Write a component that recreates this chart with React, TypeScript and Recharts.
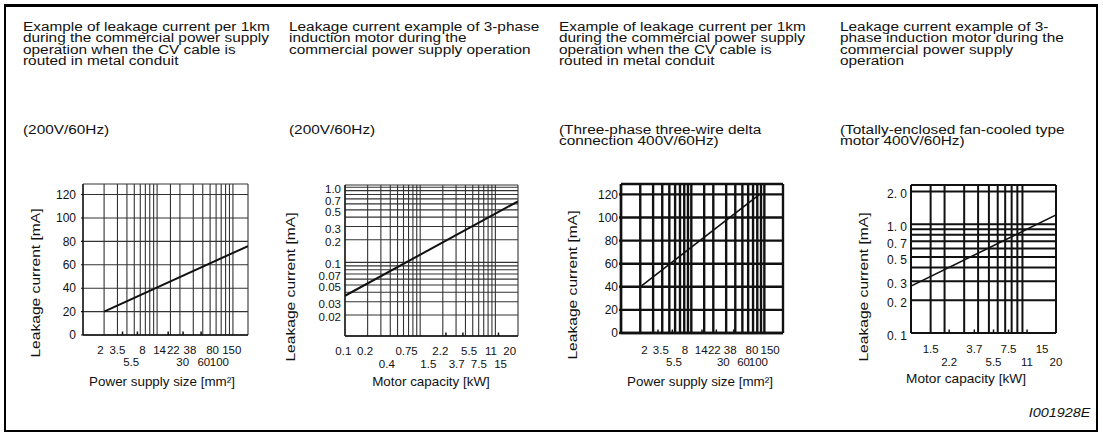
import React from 'react';
import { ComposedChart, Line, Scatter, XAxis, YAxis, CartesianGrid } from 'recharts';

const FONT = '"Liberation Sans", Arial, Helvetica, sans-serif';

// ---------------- data ----------------
// Panel 1: cable per 1 km, 200V/60Hz
const p1LineX = [2, 158];
const p1LineY = [20, 76];
// Panel 3: cable per 1 km, 400V/60Hz
const p3LineX = [2, 86];
const p3LineY = [40, 120];
// shared cable-size axes (panels 1 and 3)
const cableGridX = [2, 3, 4, 5, 6, 7, 8, 9, 10, 15, 20, 30, 40, 50, 60, 70, 80, 90, 100];
const cableLabelsUpper = [2, 3.5, 8, 14, 22, 38, 80, 150];
const cableLabelsLower = [5.5, 30, 60, 100];
const cableMarks = [3.5, 5.5, 14, 22, 38];
const mAGrid = [20, 40, 60, 80, 100, 120];
const mATicks = [0, 20, 40, 60, 80, 100, 120];

// Panel 2: motor, 200V/60Hz
const p2LineX = [0.1, 20];
const p2LineY = [0.036, 0.65];
const p2GridX = [0.2, 0.3, 0.4, 0.5, 0.6, 0.7, 0.8, 0.9, 1, 2, 3, 4, 5, 6, 7, 8, 9, 10, 20];
const p2GridY = [0.02, 0.03, 0.04, 0.05, 0.06, 0.07, 0.08, 0.09, 0.1, 0.2, 0.3, 0.4, 0.5, 0.6, 0.7, 0.8, 0.9, 1.0];
const p2TicksY = [0.02, 0.03, 0.05, 0.07, 0.1, 0.2, 0.3, 0.5, 0.7, 1.0];
const p2LabelsUpper = [0.1, 0.2, 0.75, 2.2, 5.5, 11, 20];
const p2LabelsLower = [0.4, 1.5, 3.7, 7.5, 15];
const p2Marks = [2.2, 3.7, 11];

// Panel 4: motor, 400V/60Hz
const p4LineX = [1, 20];
const p4LineY = [0.27, 1.22];
const p4GridX = [1.5, 2, 3, 4, 5, 6, 7, 8, 9, 10, 20];
const p4GridY = [0.2, 0.3, 0.4, 0.5, 0.6, 0.7, 0.8, 0.9, 1.0, 2.0];
const p4TicksY = [0.1, 0.2, 0.3, 0.5, 0.7, 1.0, 2.0];
const p4LabelsUpper = [1.5, 3.7, 7.5, 15];
const p4LabelsLower = [2.2, 5.5, 11, 20];
const p4Marks = [2.2, 3.7, 5.5, 7.5, 11];

// texts
const title1 = ['Example of leakage current per 1km', 'during the commercial power supply', 'operation when the CV cable is', 'routed in metal conduit'];
const title2 = ['Leakage current example of 3-phase', 'induction motor during the', 'commercial power supply operation'];
const title4 = ['Leakage current example of 3-', 'phase induction motor during the', 'commercial power supply', 'operation'];
const sub12 = ['(200V/60Hz)'];
const sub3 = ['(Three-phase three-wire delta', 'connection 400V/60Hz)'];
const sub4 = ['(Totally-enclosed fan-cooled type', 'motor 400V/60Hz)'];
const yTitle = 'Leakage current [mA]';
const xTitleCable = 'Power supply size [mm²]';
const xTitleMotor = 'Motor capacity [kW]';
const figId = 'I001928E';

const toPts = (xs: number[], ys: number[]) => xs.map((x, i) => ({ x, y: ys[i] }));

type PanelCfg = {
  left: number; top: number; width: number; height: number;
  xDomain: [number, number]; labelDomain: [number, number];
  yScale: 'linear' | 'log'; yDomain: [number, number];
  xGrid: number[]; yGrid: number[];
  yTicks: number[]; yFmt: (v: number) => string; yFont: number; yDy: number; yTickSize: number; yTickMargin: number; yTickLine: boolean;
  upper: number[]; lower: number[]; xFont: number; dy1: number; dy2: number;
  marks: number[];
  line: { x: number; y: number }[];
  gridW: number; gridColor: string; lineW: number; axisW: number;
};

// chart frame padding around the plot area (room for edge labels)
const PAD_TOP = 10;
const PAD_RIGHT = 15;

function XTick(props: any) {
  const { x, y, payload, lower, dy1, dy2, fs } = props;
  const row2 = lower.includes(payload.value);
  return (
    <text x={x} y={y + (row2 ? dy2 : dy1)} textAnchor="middle" fontSize={fs} fontFamily={FONT} fill="#111">
      {String(payload.value)}
    </text>
  );
}

function YTick(props: any) {
  const { x, y, payload, fmt, dy, fs } = props;
  return (
    <text x={x} y={y + dy} textAnchor="end" fontSize={fs} fontFamily={FONT} fill="#111">
      {fmt(payload.value)}
    </text>
  );
}

const Empty = () => <g />;

function Panel({ c }: { c: PanelCfg }) {
  const markData = c.marks.map((x) => ({ x, y: c.yDomain[0] }));
  const labelData = [...c.upper, ...c.lower].map((x) => ({ x, y: c.yDomain[0] }));
  const SmallTick = (p: any) => (
    <line x1={p.cx} x2={p.cx} y1={p.cy} y2={p.cy - 3.5} stroke="#111" strokeWidth={1.5} />
  );
  return (
    <div style={{ position: 'absolute', left: c.left, top: c.top - PAD_TOP }}>
      <ComposedChart width={c.width + PAD_RIGHT - 5} height={c.height + PAD_TOP} margin={{ top: PAD_TOP, right: PAD_RIGHT, bottom: 0, left: 0 }}>
        <XAxis
          xAxisId="lx" dataKey="x" type="number" scale="log" domain={c.labelDomain} allowDataOverflow
          ticks={[...c.upper, ...c.lower]} interval={0} height={35} tickSize={0} tickMargin={0}
          axisLine={{ stroke: '#111', strokeWidth: c.axisW }} tickLine={false}
          tick={(t: any) => <XTick {...t} lower={c.lower} dy1={c.dy1} dy2={c.dy2} fs={c.xFont} />}
        />
        <YAxis
          yAxisId="vy" type="number" scale={c.yScale} domain={c.yDomain} allowDataOverflow
          ticks={c.yTicks} interval={0} width={40} tickSize={c.yTickSize} tickMargin={c.yTickMargin}
          axisLine={{ stroke: '#111', strokeWidth: c.axisW }}
          tickLine={c.yTickLine ? { stroke: '#111', strokeWidth: c.gridW } : false}
          tick={(t: any) => <YTick {...t} fmt={c.yFmt} dy={c.yDy} fs={c.yFont} />}
        />
        <XAxis xAxisId="gx" dataKey="x" type="number" scale="log" domain={c.xDomain} allowDataOverflow ticks={c.xGrid} interval={0} height={0} hide />
        <YAxis yAxisId="gy" type="number" scale={c.yScale} domain={c.yDomain} allowDataOverflow ticks={c.yGrid} interval={0} width={0} hide />
        <CartesianGrid xAxisId="gx" yAxisId="gy" stroke={c.gridColor} strokeWidth={c.gridW} />
        <Line xAxisId="gx" yAxisId="vy" data={c.line} dataKey="y" stroke="#111" strokeWidth={c.lineW} dot={false} activeDot={false} isAnimationActive={false} />
        <Scatter xAxisId="gx" yAxisId="vy" data={markData} dataKey="y" shape={SmallTick} isAnimationActive={false} />
        <Scatter xAxisId="lx" yAxisId="vy" data={labelData} dataKey="y" shape={Empty} isAnimationActive={false} />
      </ComposedChart>
    </div>
  );
}

function TextLines({ x, top, lines, fs, lh, sx }: { x: number; top: number; lines: string[]; fs: number; lh: number; sx: number }) {
  return (
    <div style={{ position: 'absolute', left: x, top, fontSize: fs, lineHeight: `${lh}px`, whiteSpace: 'pre', transform: `scaleX(${sx})`, transformOrigin: 'left top' }}>
      {lines.map((l, i) => <div key={i}>{l}</div>)}
    </div>
  );
}

function CenterText({ cx, cy, text, fs, sx, rotate }: { cx: number; cy: number; text: string; fs: number; sx: number; rotate?: boolean }) {
  return (
    <div style={{ position: 'absolute', left: cx, top: cy, fontSize: fs, lineHeight: `${fs}px`, whiteSpace: 'pre', transform: `translate(-50%,-50%) ${rotate ? 'rotate(-90deg) ' : ''}scaleX(${sx})` }}>
      {text}
    </div>
  );
}

const fmtPlain = (v: number) => String(v);
const fmtP2 = (v: number) => (v === 1 ? '1.0' : String(v));
const fmtP4 = (v: number) => v.toFixed(1).replace('.', '. ');

const panels: PanelCfg[] = [
  {
    left: 43, top: 184, width: 210, height: 186,
    xDomain: [1.054, 158], labelDomain: [1.13, 256], yScale: 'linear', yDomain: [0, 129],
    xGrid: cableGridX, yGrid: mAGrid, yTicks: mATicks, yFmt: fmtPlain, yFont: 12, yDy: 4.2, yTickSize: 2, yTickMargin: 5, yTickLine: true,
    upper: cableLabelsUpper, lower: cableLabelsLower, xFont: 11.5, dy1: 19, dy2: 31,
    marks: cableMarks, line: toPts(p1LineX, p1LineY), gridW: 1.1, gridColor: '#333', lineW: 2, axisW: 1.3,
  },
  {
    left: 305, top: 185, width: 218, height: 186,
    xDomain: [0.1, 20], labelDomain: [0.1055, 26.1], yScale: 'log', yDomain: [0.0105, 1.07],
    xGrid: p2GridX, yGrid: p2GridY, yTicks: p2TicksY, yFmt: fmtP2, yFont: 11.5, yDy: 6, yTickSize: 0, yTickMargin: 4, yTickLine: false,
    upper: p2LabelsUpper, lower: p2LabelsLower, xFont: 11.5, dy1: 18.5, dy2: 32,
    marks: p2Marks, line: toPts(p2LineX, p2LineY), gridW: 1.1, gridColor: '#333', lineW: 2, axisW: 1.3,
  },
  {
    left: 581, top: 184, width: 207, height: 184,
    xDomain: [1.09, 180], labelDomain: [0.89, 233], yScale: 'linear', yDomain: [0, 129],
    xGrid: cableGridX, yGrid: mAGrid, yTicks: mATicks, yFmt: fmtPlain, yFont: 12, yDy: 4.2, yTickSize: 2, yTickMargin: 1, yTickLine: true,
    upper: cableLabelsUpper, lower: cableLabelsLower, xFont: 11.5, dy1: 21, dy2: 33,
    marks: cableMarks, line: toPts(p3LineX, p3LineY), gridW: 2.4, gridColor: '#111', lineW: 1.6, axisW: 2.4,
  },
  {
    left: 871, top: 185, width: 190, height: 183,
    xDomain: [1, 20], labelDomain: [1, 20], yScale: 'log', yDomain: [0.1, 2.3],
    xGrid: p4GridX, yGrid: p4GridY, yTicks: p4TicksY, yFmt: fmtP4, yFont: 12, yDy: 6.5, yTickSize: 0, yTickMargin: 4, yTickLine: false,
    upper: p4LabelsUpper, lower: p4LabelsLower, xFont: 11.5, dy1: 20, dy2: 33,
    marks: p4Marks, line: toPts(p4LineX, p4LineY), gridW: 2, gridColor: '#111', lineW: 1.6, axisW: 2,
  },
];

const TFS = 12, TLH = 11.3, TSX = 1.28;

export default function App() {
  return (
    <div style={{ position: 'absolute', left: 0, top: 0, width: 1103, height: 435, background: '#fff', fontFamily: FONT, color: '#111', overflow: 'hidden' }}>
      <div style={{ position: 'absolute', left: 4, top: 4, width: 1094, height: 428, border: '2px solid #000', borderTopWidth: 3, boxSizing: 'border-box' }} />

      <TextLines x={23} top={22} lines={title1} fs={TFS} lh={TLH} sx={TSX} />
      <TextLines x={289} top={22} lines={title2} fs={TFS} lh={TLH} sx={TSX} />
      <TextLines x={559} top={22} lines={title1} fs={TFS} lh={TLH} sx={TSX} />
      <TextLines x={840} top={22} lines={title4} fs={TFS} lh={TLH} sx={TSX} />

      <TextLines x={23} top={125} lines={sub12} fs={TFS} lh={TLH} sx={TSX} />
      <TextLines x={289} top={125} lines={sub12} fs={TFS} lh={TLH} sx={TSX} />
      <TextLines x={559} top={125} lines={sub3} fs={TFS} lh={TLH} sx={TSX} />
      <TextLines x={840} top={125} lines={sub4} fs={TFS} lh={TLH} sx={TSX} />

      {panels.map((c, i) => <Panel key={i} c={c} />)}

      <CenterText cx={35} cy={283} text={yTitle} fs={13} sx={1.2} rotate />
      <CenterText cx={290} cy={287} text={yTitle} fs={13} sx={1.2} rotate />
      <CenterText cx={572} cy={285} text={yTitle} fs={13} sx={1.2} rotate />
      <CenterText cx={863} cy={287} text={yTitle} fs={13} sx={1.2} rotate />

      <CenterText cx={162} cy={381} text={xTitleCable} fs={13} sx={1.03} />
      <CenterText cx={431} cy={381} text={xTitleMotor} fs={13} sx={1.03} />
      <CenterText cx={700} cy={381} text={xTitleCable} fs={13} sx={1.03} />
      <CenterText cx={966} cy={378} text={xTitleMotor} fs={13} sx={1.05} />

      <div style={{ position: 'absolute', right: 13, top: 407, fontSize: 12, lineHeight: '12px', fontStyle: 'italic', transform: 'scaleX(1.2)', transformOrigin: 'right top' }}>{figId}</div>
    </div>
  );
}
